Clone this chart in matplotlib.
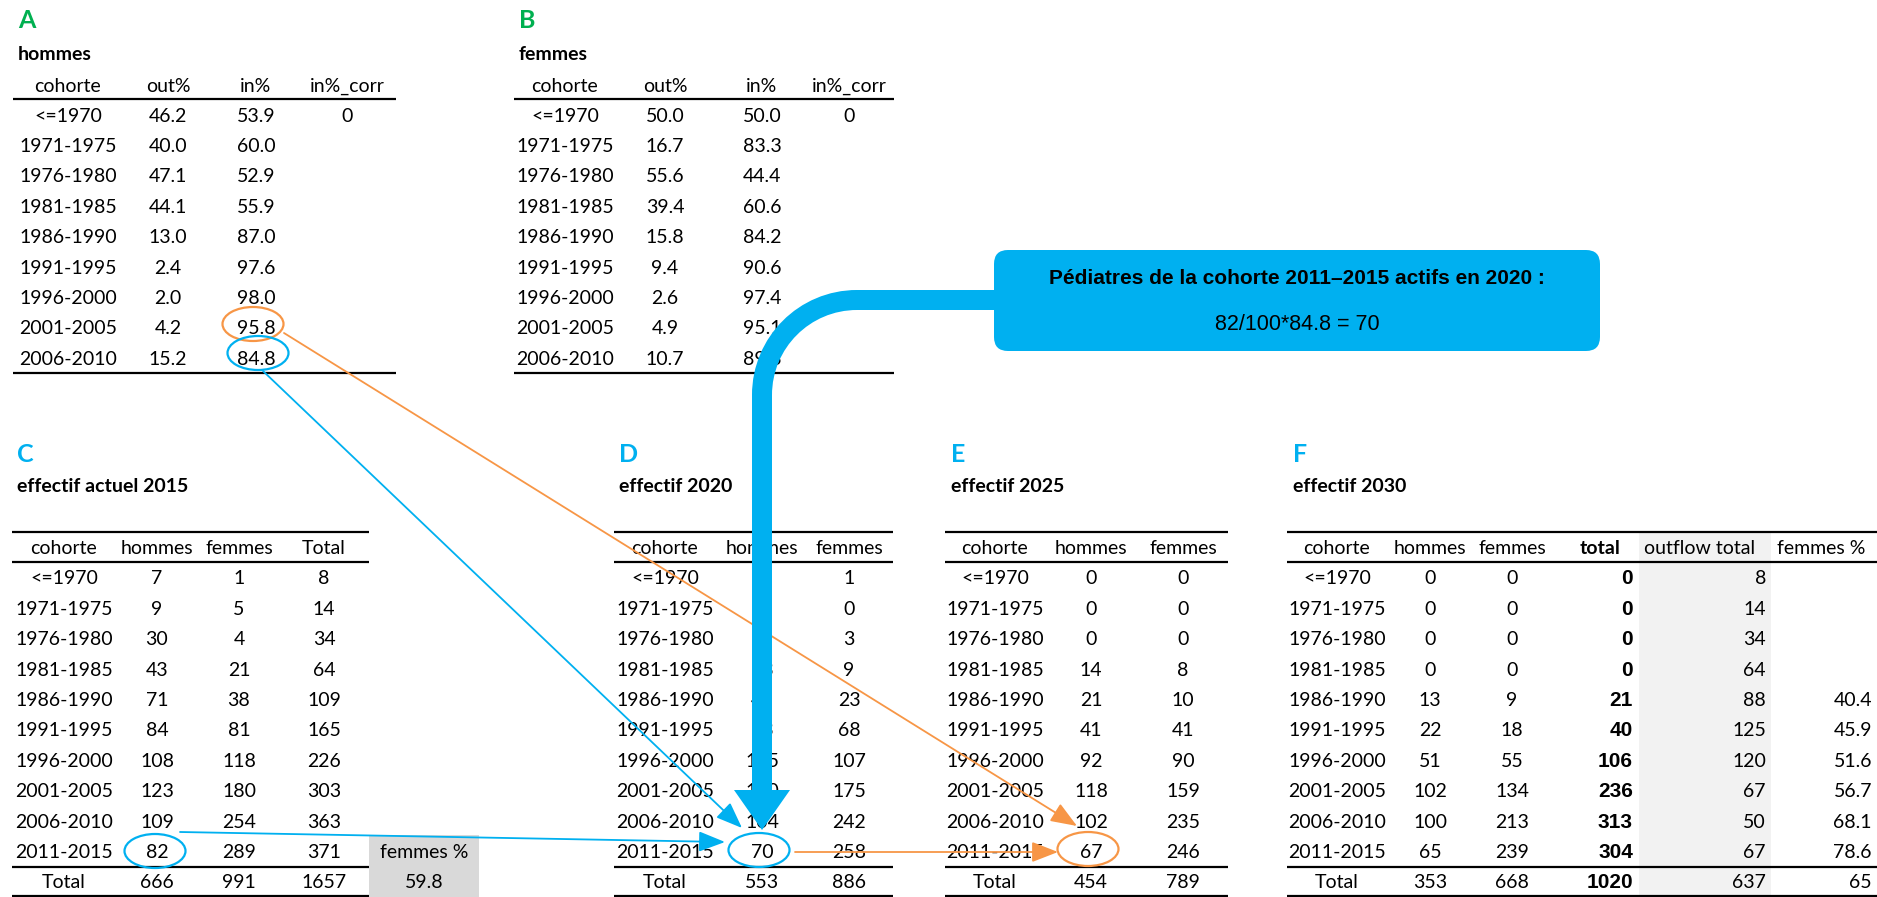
import numpy as np
import matplotlib
matplotlib.use("Agg")
import matplotlib.pyplot as plt
from matplotlib.patches import Ellipse, FancyBboxPatch, PathPatch, Polygon, Rectangle
from matplotlib.path import Path

# données
cohortes = ['<=1970', '1971-1975', '1976-1980', '1981-1985', '1986-1990',
            '1991-1995', '1996-2000', '2001-2005', '2006-2010']
cohortes_all = cohortes + ['2011-2015']

hom_out = [46.2, 40.0, 47.1, 44.1, 13.0, 2.4, 2.0, 4.2, 15.2]
hom_in = [53.9, 60.0, 52.9, 55.9, 87.0, 97.6, 98.0, 95.8, 84.8]
fem_out = [50.0, 16.7, 55.6, 39.4, 15.8, 9.4, 2.6, 4.9, 10.7]
fem_in = [50.0, 83.3, 44.4, 60.6, 84.2, 90.6, 97.4, 95.1, 89.3]
in_corr = ['0'] + [''] * 8

hommes_2015 = [7, 9, 30, 43, 71, 84, 108, 123, 109, 82]
femmes_2015 = [1, 5, 4, 21, 38, 81, 118, 180, 254, 289]
total_2015 = [8, 14, 34, 64, 109, 165, 226, 303, 363, 371]
tot_2015 = [666, 991, 1657]
femmes_pct_2015 = 59.8

hommes_2020 = [0, 0, 18, 23, 40, 73, 105, 120, 104, 70]
femmes_2020 = [1, 0, 3, 9, 23, 68, 107, 175, 242, 258]
tot_2020 = [553, 886]

hommes_2025 = [0, 0, 0, 14, 21, 41, 92, 118, 102, 67]
femmes_2025 = [0, 0, 0, 8, 10, 41, 90, 159, 235, 246]
tot_2025 = [454, 789]

hommes_2030 = [0, 0, 0, 0, 13, 22, 51, 102, 100, 65]
femmes_2030 = [0, 0, 0, 0, 9, 18, 55, 134, 213, 239]
total_2030 = [0, 0, 0, 0, 21, 40, 106, 236, 313, 304]
outflow_2030 = [8, 14, 34, 64, 88, 125, 120, 67, 50, 67]
femmes_pct_2030 = ['', '', '', '', '40.4', '45.9', '51.6', '56.7', '68.1', '78.6']
tot_2030 = [353, 668, 1020, 637, 65]

BLUE = '#00b0f0'
ORANGE = '#f79646'
GREEN = '#00b050'
FONT = 'Lato'
FS = 14

W, H = 1877, 897
fig = plt.figure(figsize=(W / 100, H / 100), dpi=100)
ax = fig.add_axes([0, 0, 1, 1])
ax.set_xlim(0, W)
ax.set_ylim(H, 0)
ax.axis('off')


def txt(x, y, s, ha='center', bold=False, size=FS, color='black', family=FONT, z=3):
    ax.text(x, y, s, ha=ha, va='center', fontsize=size, color=color,
            fontweight='bold' if bold else 'normal', family=family, zorder=z)


def hline(y, x0, x1, lw=1.6):
    ax.plot([x0, x1], [y, y], color='black', lw=lw, solid_capstyle='butt', zorder=2)


def rows_y(n, y0, step=30.4):
    return [y0 + step * i for i in range(n)]


# ---- A / B : taux hommes, femmes
def pct_table(letter, title, xl, xs, x0, x1, outs, ins):
    txt(xl, 21, letter, ha='left', bold=True, size=18, color=GREEN)
    txt(xl, 54, title, ha='left', bold=True)
    for x, h in zip(xs, ['cohorte', 'out%', 'in%', 'in%_corr']):
        txt(x, 86, h)
    hline(99, x0, x1)
    for y, c, o, i, k in zip(rows_y(9, 116), cohortes, outs, ins, in_corr):
        txt(xs[0], y, c)
        txt(xs[1], y, f'{o:.1f}')
        txt(xs[2], y, f'{i:.1f}')
        txt(xs[3], y, k)
    hline(373, x0, x1)


pct_table('A', 'hommes', 18, [68, 168, 256, 347], 13, 396, hom_out, hom_in)
pct_table('B', 'femmes', 519, [565, 665, 762, 849], 514, 894, fem_out, fem_in)


# ---- C / D / E / F : effectifs
ys = rows_y(10, 579)
Y_HEAD, Y_TOT = 548, 883


def frame(x0, x1):
    hline(532, x0, x1)
    hline(562, x0, x1)
    hline(867, x0, x1)
    hline(896, x0, x1)


def count_table(letter, title, xl, xs, heads, cols, tots, x0, x1):
    txt(xl, 454, letter, ha='left', bold=True, size=18, color=BLUE)
    txt(xl, 487, title, ha='left', bold=True)
    frame(x0, x1)
    for x, h in zip(xs, heads):
        txt(x, Y_HEAD, h)
    for i, y in enumerate(ys):
        txt(xs[0], y, cohortes_all[i])
        for x, col in zip(xs[1:], cols):
            txt(x, y, str(col[i]))
    txt(xs[0], Y_TOT, 'Total')
    for x, t in zip(xs[1:], tots):
        txt(x, Y_TOT, str(t))


count_table('C', 'effectif actuel 2015', 17, [64, 157, 239, 324],
            ['cohorte', 'hommes', 'femmes', 'Total'],
            [hommes_2015, femmes_2015, total_2015], tot_2015, 12, 369)
ax.add_patch(Rectangle((369, 835), 110, 62, fc='#d9d9d9', ec='none', zorder=1))
txt(424, 853, 'femmes %')
txt(424, 883, f'{femmes_pct_2015:.1f}')

count_table('D', 'effectif 2020', 619, [665, 762, 849],
            ['cohorte', 'hommes', 'femmes'],
            [hommes_2020, femmes_2020], tot_2020, 614, 893)

count_table('E', 'effectif 2025', 951, [995, 1091, 1183],
            ['cohorte', 'hommes', 'femmes'],
            [hommes_2025, femmes_2025], tot_2025, 945, 1228)

# F : colonnes total / outflow / femmes % alignées à droite
count_table('F', 'effectif 2030', 1293, [1337, 1430, 1512],
            ['cohorte', 'hommes', 'femmes'],
            [hommes_2030, femmes_2030], tot_2030[:2], 1287, W)
ax.add_patch(Rectangle((1639, 533), 132, H - 533, fc='#f2f2f2', ec='none', zorder=0))
txt(1600, Y_HEAD, 'total', bold=True)
txt(1700, Y_HEAD, 'outflow total')
txt(1821, Y_HEAD, 'femmes %')
for i, y in enumerate(ys):
    txt(1633, y, str(total_2030[i]), ha='right', bold=True, size=15, family='Liberation Sans')
    txt(1766, y, str(outflow_2030[i]), ha='right')
    txt(1872, y, femmes_pct_2030[i], ha='right')
txt(1633, Y_TOT, str(tot_2030[2]), ha='right', bold=True, size=15, family='Liberation Sans')
txt(1766, Y_TOT, str(tot_2030[3]), ha='right')
txt(1872, Y_TOT, str(tot_2030[4]), ha='right')

# ---- cercles
for (x, y), c in [((253, 324), ORANGE), ((258, 353), BLUE), ((155, 851), BLUE),
                  ((759, 850), BLUE), ((1088, 849), ORANGE)]:
    ax.add_patch(Ellipse((x, y), 61, 34, fill=False, ec=c, lw=1.6, zorder=5))

# ---- flèches fines
def arrow(p0, p1, c):
    ax.annotate('', xy=p1, xytext=p0, zorder=6,
                arrowprops=dict(arrowstyle='-|>,head_length=0.9,head_width=0.35',
                                mutation_scale=18, color=c, lw=1.3,
                                shrinkA=0, shrinkB=0))


arrow((263, 371), (742, 828), BLUE)
arrow((180, 832), (725, 842), BLUE)
arrow((284, 333), (1077, 826), ORANGE)
arrow((795, 852), (1058, 852), ORANGE)

# ---- encadré + grosse flèche
ax.add_patch(FancyBboxPatch((994, 250), 606, 101, boxstyle='round,pad=0,rounding_size=14',
                            fc=BLUE, ec='none', zorder=7))
txt(1297, 278, 'Pédiatres de la cohorte 2011\u20132015 actifs en 2020 :', bold=True,
    size=15, family='Liberation Sans', z=8)
txt(1297, 324, '82/100*84.8 = 70', size=15.5, family='Liberation Sans', z=8)

xc, yb, r, k = 762, 300, 95, 0.5523
verts = [(1000, yb), (xc + r, yb), (xc + r - k * r, yb), (xc, yb + r - k * r),
         (xc, yb + r), (xc, 792)]
codes = [Path.MOVETO, Path.LINETO, Path.CURVE4, Path.CURVE4, Path.CURVE4, Path.LINETO]
ax.add_patch(PathPatch(Path(verts, codes), fill=False, ec=BLUE, lw=14.4,
                       capstyle='butt', joinstyle='round', zorder=7))
ax.add_patch(Polygon([(734, 790), (790, 790), (762, 830)], closed=True,
                     fc=BLUE, ec='none', zorder=7))

fig.savefig('out.png', dpi=100)
